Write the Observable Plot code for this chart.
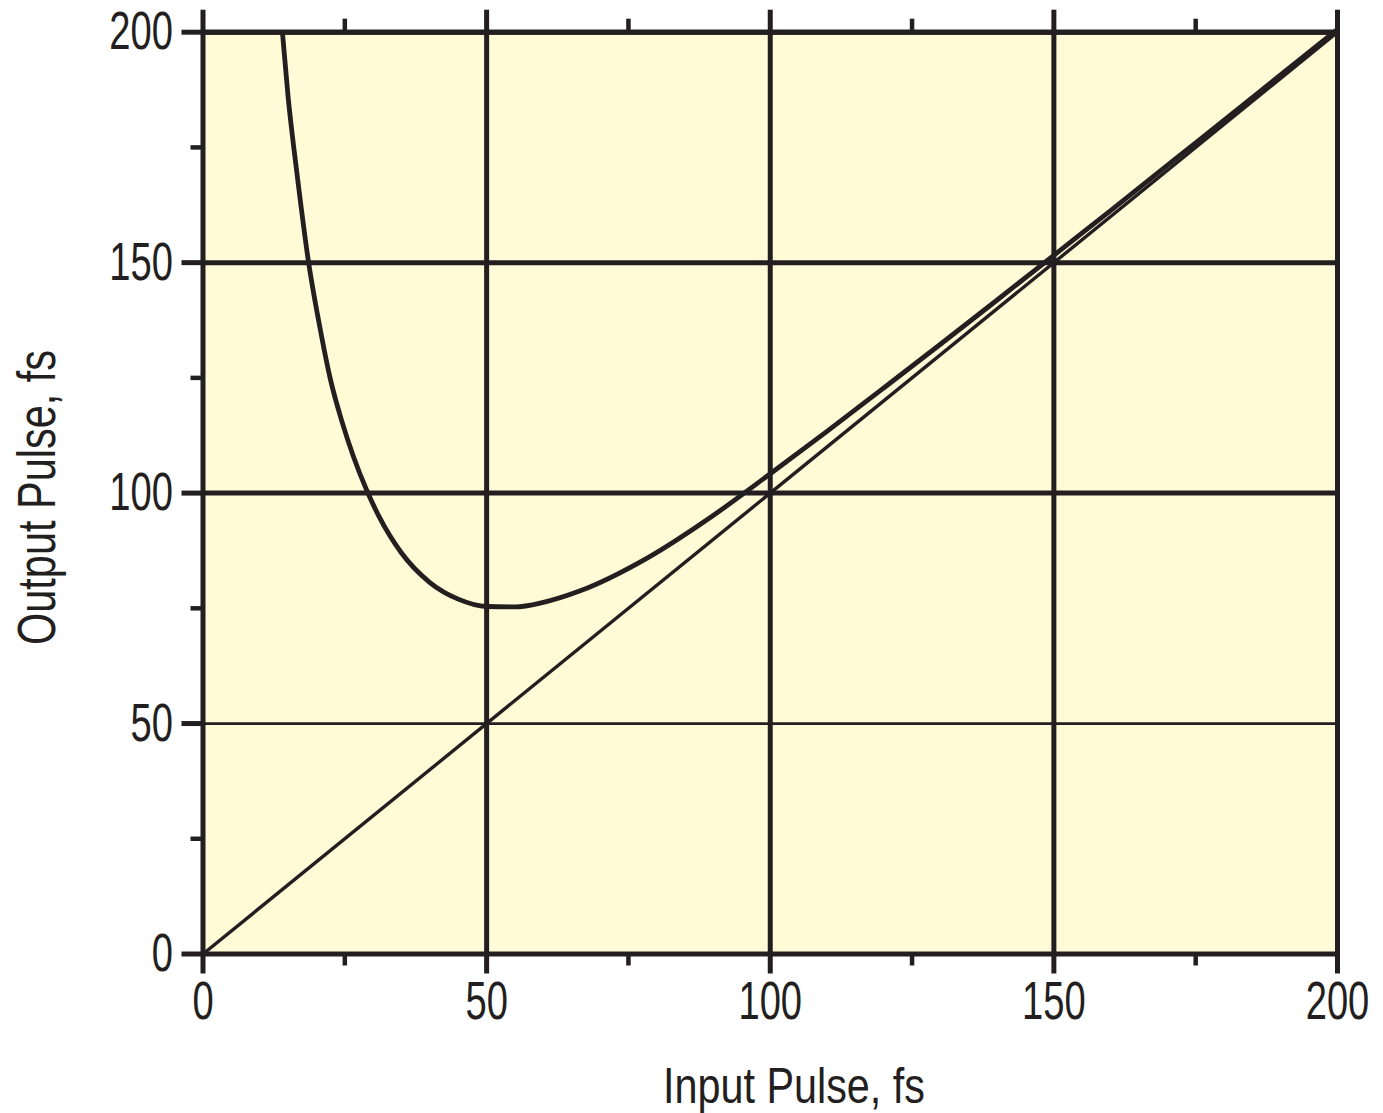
<!DOCTYPE html>
<html>
<head>
<meta charset="utf-8">
<script src="https://cdn.jsdelivr.net/npm/d3@7"></script>
<script src="https://cdn.jsdelivr.net/npm/@observablehq/plot@0.6"></script>
<style>
  html, body { margin: 0; padding: 0; background: #ffffff; }
  #chart svg { display: block; }
</style>
</head>
<body>
<div id="chart"></div>
<script>
// ---- Data ----
const inputPulse  = [14, 15, 16, 17, 18.5, 20.6, 22.4, 24.5, 26.5, 28.9, 31, 35, 40, 45, 50, 55, 60, 66.5, 78.3, 90, 100, 110, 120, 130, 140, 150, 160, 175, 187, 200];
const outputPulse = [200, 186, 175, 165, 151, 136, 125, 115.5, 108, 100.5, 95, 87, 80.6, 77, 75.4, 75.3, 76.3, 78.8, 85.9, 95.2, 104.2, 113.4, 122.8, 132.3, 141.9, 151.6, 161.3, 176, 187.8, 200.6];
const diagInput   = [0, 200];
const diagOutput  = [0, 200];
const majorTicks  = [0, 50, 100, 150, 200];
const minorTicks  = [25, 75, 125, 175];
const gridX       = [50, 100, 150];
const gridYBold   = [100, 150, 200];
const gridYThin   = [50];
const xTitle = "Input Pulse, fs";
const yTitle = "Output Pulse, fs";

const ink = "#231F20";
const paper = "#FFFBD6";
const font = "'Liberation Sans', Arial, Helvetica, sans-serif";

const curve = inputPulse.map((x, i) => ({x, y: outputPulse[i]}));
const diag = diagInput.map((x, i) => ({x, y: diagOutput[i]}));

const plot = Plot.plot({
  width: 1383,
  height: 1113,
  marginLeft: 202.5,
  marginRight: 46,
  marginTop: 31.7,
  marginBottom: 159.5,
  style: {background: "#ffffff", color: ink, fontFamily: font},
  x: {domain: [0, 200]},
  y: {domain: [0, 200]},
  marks: [
    Plot.frame({fill: paper}),
    Plot.ruleX(gridX, {stroke: ink, strokeWidth: 5}),
    Plot.ruleY(gridYBold, {stroke: ink, strokeWidth: 5}),
    Plot.ruleY(gridYThin, {stroke: ink, strokeWidth: 2.7}),
    Plot.line(diag, {x: "x", y: "y", stroke: ink, strokeWidth: 3.4}),
    Plot.line(curve, {x: "x", y: "y", stroke: ink, strokeWidth: 4.8, curve: "monotone-x"}),
    Plot.frame({stroke: ink, strokeWidth: 5}),
    // bottom axis
    Plot.axisX({anchor: "bottom", ticks: majorTicks, tickSize: 20, tickPadding: 7, strokeWidth: 5, fontSize: 53, label: null, tickFormat: d => String(d)}),
    Plot.axisX({anchor: "bottom", ticks: minorTicks, tickSize: 12, strokeWidth: 4.5, text: null, label: null}),
    // top ticks
    Plot.axisX({anchor: "top", ticks: majorTicks, tickSize: 23, strokeWidth: 5, text: null, label: null}),
    Plot.axisX({anchor: "top", ticks: minorTicks, tickSize: 14, strokeWidth: 4.5, text: null, label: null}),
    // left axis
    Plot.axisY({anchor: "left", ticks: majorTicks, tickSize: 21, tickPadding: 9, strokeWidth: 5, fontSize: 53, label: null, tickFormat: d => String(d)}),
    Plot.axisY({anchor: "left", ticks: minorTicks, tickSize: 12, strokeWidth: 4.5, text: null, label: null})
  ]
});

document.getElementById("chart").appendChild(plot);

// condense tick labels (the reference uses a condensed face)
plot.querySelectorAll("text").forEach(t => {
  const tr = t.getAttribute("transform") || "";
  t.setAttribute("transform", tr + " scale(0.72,1)");
  t.setAttribute("fill", ink);
});

// axis titles
const svg = d3.select(plot);
svg.append("text")
  .attr("x", 794).attr("y", 1103)
  .attr("text-anchor", "middle")
  .attr("font-family", font).attr("font-size", 50).attr("fill", ink)
  .attr("textLength", 262).attr("lengthAdjust", "spacingAndGlyphs")
  .text(xTitle);
svg.append("text")
  .attr("transform", "translate(55,497.5) rotate(-90)")
  .attr("text-anchor", "middle")
  .attr("font-family", font).attr("font-size", 53).attr("fill", ink)
  .attr("textLength", 295).attr("lengthAdjust", "spacingAndGlyphs")
  .text(yTitle);
</script>
</body>
</html>
